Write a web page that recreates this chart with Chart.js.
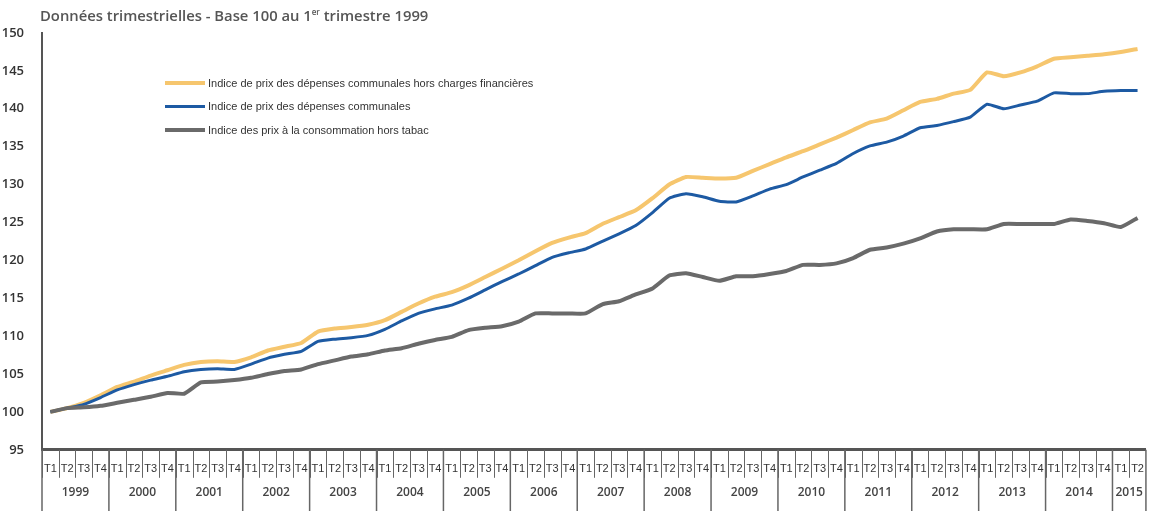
<!DOCTYPE html>
<html>
<head>
<meta charset="utf-8">
<script src="https://cdn.jsdelivr.net/npm/chart.js@4/dist/chart.umd.min.js"></script>
<style>
    body { margin: 0; background: #fff; }
    #wrap { position: relative; width: 1149px; height: 513px; }
    #titre {
        position: absolute; left: 40px; top: 5px;
        font: 600 14.8px 'Open Sans', sans-serif; color: #555;
    }
    #titre sup { font-size: 8px; }
    #legende {
        position: absolute; left: 165px; top: 71px;
        font: 11px 'Liberation Sans Narrow', 'Liberation Sans', sans-serif; color: #333;
    }
    #legende div { height: 23.5px; display: flex; align-items: center; }
    #legende span.trait { display: inline-block; width: 40px; margin-right: 3px; }
</style>
</head>
<body>
<div id="wrap">
    <canvas id="chartIndices" width="1149" height="513"></canvas>
    <div id="titre">Données trimestrielles - Base 100 au 1<sup>er</sup> trimestre 1999</div>
    <div id="legende"></div>
</div>
<script>
// --- Données ---
const years = ['1999', '2000', '2001', '2002', '2003', '2004', '2005', '2006', '2007',
               '2008', '2009', '2010', '2011', '2012', '2013', '2014', '2015'];
const quarters = ['T1', 'T2', 'T3', 'T4'];
const quartersPerYear = [4, 4, 4, 4, 4, 4, 4, 4, 4, 4, 4, 4, 4, 4, 4, 4, 2];

// Indice de prix des dépenses communales hors charges financières
const horsCharges = [
    100.0, 100.5, 101.2, 102.2, 103.3, 104.0, 104.8, 105.5, 106.2, 106.6, 106.7, 106.6,
    107.2, 108.1, 108.6, 109.1, 110.6, 111.0, 111.2, 111.5, 112.1, 113.2, 114.3, 115.2,
    115.8, 116.7, 117.8, 118.9, 120.0, 121.2, 122.3, 123.0, 123.6, 124.8, 125.7, 126.6,
    128.2, 130.0, 131.0, 130.9, 130.8, 130.9, 131.8, 132.7, 133.6, 134.4, 135.3, 136.2,
    137.2, 138.2, 138.7, 139.8, 140.9, 141.3, 142.0, 142.5, 144.8, 144.3, 144.8, 145.6,
    146.6, 146.8, 147.0, 147.2, 147.5, 147.9
];
// Indice de prix des dépenses communales
const depenses = [
    100.0, 100.5, 101.0, 101.9, 102.9, 103.6, 104.2, 104.7, 105.3, 105.6, 105.7, 105.6,
    106.3, 107.1, 107.6, 108.0, 109.3, 109.6, 109.8, 110.1, 110.9, 112.0, 113.0, 113.6,
    114.1, 115.0, 116.1, 117.2, 118.2, 119.3, 120.4, 121.0, 121.5, 122.5, 123.5, 124.6,
    126.3, 128.2, 128.8, 128.4, 127.8, 127.7, 128.5, 129.4, 130.0, 131.0, 131.9, 132.8,
    134.1, 135.1, 135.6, 136.4, 137.5, 137.8, 138.3, 138.9, 140.6, 140.0, 140.5, 141.0,
    142.1, 142.0, 142.0, 142.3, 142.4, 142.4
];
// Indice des prix à la consommation hors tabac
const consommation = [
    100.0, 100.5, 100.6, 100.8, 101.2, 101.6, 102.0, 102.5, 102.4, 103.9, 104.0, 104.2,
    104.5, 105.0, 105.4, 105.6, 106.3, 106.8, 107.3, 107.6, 108.1, 108.4, 109.0, 109.5,
    109.9, 110.8, 111.1, 111.3, 111.9, 113.0, 113.0, 113.0, 113.0, 114.2, 114.6, 115.5,
    116.3, 118.0, 118.3, 117.8, 117.3, 117.9, 117.9, 118.2, 118.6, 119.4, 119.4, 119.6,
    120.3, 121.4, 121.7, 122.2, 122.9, 123.8, 124.1, 124.1, 124.1, 124.8, 124.8, 124.8,
    124.8, 125.4, 125.2, 124.9, 124.4, 125.6
];

const yTicks = { min: 95, max: 150, step: 5 };

// libellés trimestriels construits à partir des tableaux ci-dessus
const labels = [];
years.forEach(function (y, i) {
    for (let q = 0; q < quartersPerYear[i]; q++) labels.push(quarters[q] + ' ' + y);
});

const series = [
    { label: 'Indice des prix à la consommation hors tabac', data: consommation, color: '#6a6a6a', width: 4 },
    { label: 'Indice de prix des dépenses communales', data: depenses, color: '#1d5aa3', width: 3 },
    { label: 'Indice de prix des dépenses communales hors charges financières', data: horsCharges, color: '#f6c66e', width: 4 }
];

// --- Légende HTML (ordre du graphique d'origine) ---
const legende = document.getElementById('legende');
series.slice().reverse().forEach(function (s) {
    const row = document.createElement('div');
    row.innerHTML = '<span class="trait" style="height:' + s.width + 'px;background:' + s.color + '"></span>' + s.label;
    legende.appendChild(row);
});

// --- Séparateurs trimestres / années et libellés des années sous l'axe ---
const yearAxis = {
    id: 'yearAxis',
    afterDraw(chart) {
        const x = chart.scales.x;
        const ctx = chart.ctx;
        const top = chart.chartArea.bottom;
        const half = (x.getPixelForValue(1) - x.getPixelForValue(0)) / 2;
        ctx.save();
        ctx.strokeStyle = '#666';
        ctx.lineWidth = 1;
        // séparateurs des trimestres
        for (let i = 0; i < labels.length; i++) {
            const px = Math.round(x.getPixelForValue(i) - half) + 0.5;
            ctx.beginPath();
            ctx.moveTo(px, top);
            ctx.lineTo(px, top + 28);
            ctx.stroke();
        }
        ctx.lineWidth = 1.5;
        ctx.fillStyle = '#444';
        ctx.font = '600 12px "Open Sans", sans-serif';
        ctx.textAlign = 'center';
        ctx.textBaseline = 'middle';
        let idx = 0;
        years.forEach(function (y, i) {
            const left = x.getPixelForValue(idx) - half;
            const right = x.getPixelForValue(idx + quartersPerYear[i] - 1) + half;
            ctx.beginPath();
            ctx.moveTo(left, top);
            ctx.lineTo(left, 511);
            ctx.stroke();
            ctx.fillText(y, (left + right) / 2, 493);
            if (i === years.length - 1) {
                ctx.beginPath();
                ctx.moveTo(right, top);
                ctx.lineTo(right, 511);
                ctx.stroke();
            }
            idx += quartersPerYear[i];
        });
        ctx.restore();
    }
};

new Chart(document.getElementById('chartIndices'), {
    type: 'line',
    data: {
        labels: labels,
        datasets: series.map(function (s) {
            return {
                label: s.label,
                data: s.data,
                borderColor: s.color,
                borderWidth: s.width,
                pointRadius: 0,
                tension: 0.15,
                fill: false
            };
        })
    },
    options: {
        responsive: false,
        animation: false,
        devicePixelRatio: 1,
        layout: { padding: { left: 0, right: 3, top: 33, bottom: 32 } },
        plugins: { legend: { display: false }, tooltip: { enabled: false } },
        scales: {
            x: {
                offset: true,
                grid: { display: false },
                border: { display: true, color: '#555', width: 3 },
                ticks: {
                    autoSkip: false, maxRotation: 0, minRotation: 0, padding: 5, color: '#333',
                    font: { family: "'Liberation Sans Narrow', 'Liberation Sans', sans-serif", size: 11 },
                    callback: function (v) { return quarters[labels[v].charAt(1) - 1]; }
                }
            },
            y: {
                min: yTicks.min, max: yTicks.max,
                afterFit: function (s) { s.width = 42; },
                grid: { display: false },
                border: { display: true, color: '#555', width: 2 },
                ticks: {
                    stepSize: yTicks.step, padding: 10, color: '#333',
                    font: { family: "'Open Sans', sans-serif", size: 13, weight: '600' }
                }
            }
        }
    },
    plugins: [yearAxis]
});
</script>
</body>
</html>
